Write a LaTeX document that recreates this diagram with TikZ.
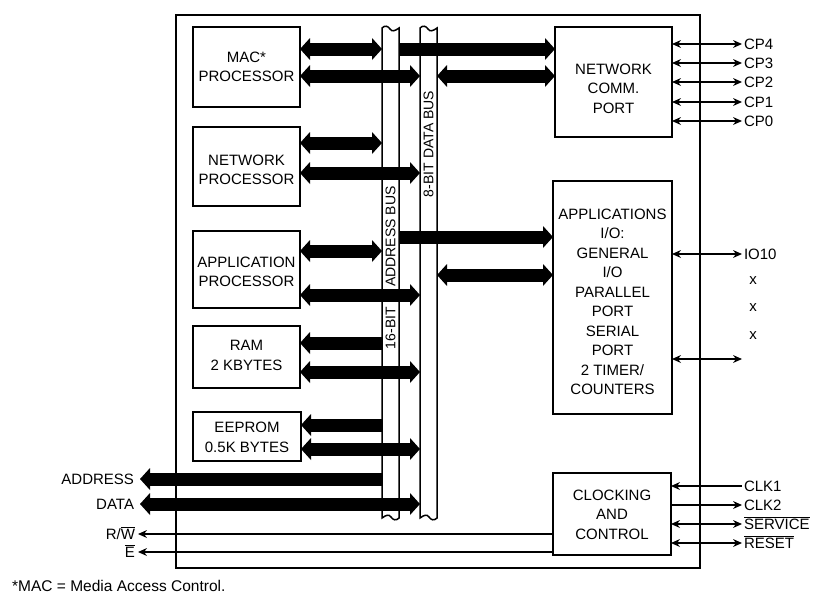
\documentclass[tikz,border=0pt]{standalone}
\usepackage{fontspec}
\setmainfont{Liberation Sans}
\usetikzlibrary{arrows.meta}
\newcommand\mfs{\fontsize{15}{19.5}\selectfont}
\newcommand\bfs{\fontsize{14}{16}\selectfont}
\begin{document}
\begin{tikzpicture}[x=1pt,y=-1pt,
  box/.style={draw,line width=1.5pt,outer sep=0pt,inner sep=0pt,anchor=north west},
  busn/.style={inner sep=0pt,outer sep=0pt,anchor=north west,minimum width=17pt,minimum height=490pt},
  txt/.style={align=center,font=\mfs,inner sep=0pt},
  lbl/.style={font=\mfs,inner xsep=2pt,inner ysep=0pt,outer sep=0pt,text height=10.7pt,text depth=0pt},
  blbl/.style={font=\bfs,rotate=90,inner sep=0pt},
  bd/.style={line width=13pt,{Triangle[length=10pt,width=22pt,line width=0pt]}-{Triangle[length=10pt,width=22pt,line width=0pt]}},
  br/.style={line width=13pt,-{Triangle[length=10pt,width=22pt,line width=0pt]}},
  td/.style={line width=1.5pt,{Stealth[length=9pt,width=8pt,line width=0pt]}-{Stealth[length=9pt,width=8pt,line width=0pt]}},
  tr/.style={line width=1.5pt,-{Stealth[length=9pt,width=8pt,line width=0pt]}},
  busline/.style={line width=1.5pt,fill=white}
]
\useasboundingbox (0,0) rectangle (813,595);

% outer frame
\node[box,minimum width=524pt,minimum height=553pt] (outer) at (176,15) {};

% buses
\node[busn] (abus) at (382,28) {};
\node[busn] (dbus) at (420,28) {};
\draw[busline] (382,518) -- (382,28) .. controls (385,25) and (388,26) .. (390,29)
  .. controls (392,32) and (395,31) .. (399,28) -- (399,518)
  .. controls (396,521) and (393,520) .. (391,517) .. controls (389,514) and (386,515) .. (382,518) -- cycle;
\draw[busline] (420,518) -- (420,28) .. controls (423,25) and (426,26) .. (428,29)
  .. controls (430,32) and (433,31) .. (437,28) -- (437,518)
  .. controls (434,521) and (431,520) .. (429,517) .. controls (427,514) and (424,515) .. (420,518) -- cycle;

% boxes
\node[box,minimum width=107pt,minimum height=80pt] (mac) at (193,27) {};
\node[txt] at (mac.center) {MAC*\\PROCESSOR};
\node[box,minimum width=107pt,minimum height=79pt] (np) at (193,127) {};
\node[txt] at ([yshift=-3.5pt]np.center) {NETWORK\\PROCESSOR};
\node[box,minimum width=107pt,minimum height=77pt] (ap) at (193,231) {};
\node[txt] at ([yshift=-2.5pt]ap.center) {APPLICATION\\PROCESSOR};
\node[box,minimum width=107pt,minimum height=62pt] (ram) at (193,326) {};
\node[txt] at ([yshift=1.5pt]ram.center) {RAM\\2 KBYTES};
\node[box,minimum width=108pt,minimum height=49pt] (eep) at (193,412) {};
\node[txt] at ([yshift=-1pt]eep.center) {EEPROM\\0.5K BYTES};
\node[box,minimum width=117pt,minimum height=110pt] (ncp) at (555,27) {};
\node[txt] at ([yshift=-6.5pt]ncp.center) {NETWORK\\COMM.\\PORT};
\node[box,minimum width=119pt,minimum height=233pt] (apio) at (553,181) {};
\node[txt] at ([yshift=-4.5pt]apio.center) {APPLICATIONS\\I/O:\\GENERAL\\I/O\\PARALLEL\\PORT\\SERIAL\\PORT\\2 TIMER/\\COUNTERS};
\node[box,minimum width=118pt,minimum height=82pt] (ctl) at (553,473) {};
\node[txt] at ([yshift=-0.5pt]ctl.center) {CLOCKING\\AND\\CONTROL};

% outside labels
\node[lbl,anchor=west] (cp4) at (742,44) {CP4};
\node[lbl,anchor=west] (cp3) at (742,63) {CP3};
\node[lbl,anchor=west] (cp2) at (742,82) {CP2};
\node[lbl,anchor=west] (cp1) at (742,102) {CP1};
\node[lbl,anchor=west] (cp0) at (742,121) {CP0};
\node[lbl,anchor=west] (io10) at (742,254) {IO10};
\coordinate (ioend) at (742,359);
\node[font=\mfs,inner sep=0pt] (x1) at (753,281) {x};
\node[font=\mfs,inner sep=0pt] (x2) at (753,308) {x};
\node[font=\mfs,inner sep=0pt] (x3) at (753,336) {x};
\node[lbl,anchor=west] (clk1) at (742,486) {CLK1};
\node[lbl,anchor=west] (clk2) at (742,505) {CLK2};
\node[lbl,anchor=west] (srv) at (742,524) {$\overline{\hbox{SERVICE}}$};
\node[lbl,anchor=west] (rst) at (742,543) {$\overline{\hbox{RESET}}$};
\node[lbl,anchor=east,inner xsep=6pt] (addr) at (140,479) {ADDRESS};
\node[lbl,anchor=east,inner xsep=6pt] (data) at (140,504) {DATA};
\node[lbl,anchor=east,inner xsep=3pt] (rw) at (138,534) {R/$\overline{\hbox{W}}$};
\node[lbl,anchor=east,inner xsep=3pt] (en) at (138,552) {$\overline{\hbox{E}}$};
\node[font=\fontsize{15.5}{18}\selectfont,anchor=west,inner sep=0pt] (fn) at (12,585.5) {*MAC = Media Access Control.};

% thick bus connectors
\draw[bd] (mac.east |- 0,49) -- (abus.west |- 0,49);
\draw[br] (abus.east |- 0,49) -- (ncp.west |- 0,49);
\draw[bd] (mac.east |- 0,76) -- (dbus.west |- 0,76);
\draw[bd] (dbus.east |- 0,76) -- (ncp.west |- 0,76);
\draw[bd] (np.east |- 0,143) -- (abus.west |- 0,143);
\draw[bd] (np.east |- 0,173) -- (dbus.west |- 0,173);
\draw[br] (abus.east |- 0,237) -- (apio.west |- 0,237);
\draw[bd] (ap.east |- 0,251) -- (abus.west |- 0,251);
\draw[bd] (dbus.east |- 0,275) -- (apio.west |- 0,275);
\draw[bd] (ap.east |- 0,295) -- (dbus.west |- 0,295);
\draw[br] (abus.west |- 0,343) -- (ram.east |- 0,343);
\draw[bd] (ram.east |- 0,372) -- (dbus.west |- 0,372);
\draw[br] (abus.west |- 0,425) -- (eep.east |- 0,425);
\draw[bd] (eep.east |- 0,449) -- (dbus.west |- 0,449);
\draw[br] (abus.west |- addr) -- (addr.east);
\draw[bd] (dbus.west |- data) -- (data.east);

% bus labels
\node[blbl] at (abus.center |- 0,236.5) {ADDRESS BUS};
\node[blbl] at (abus.center |- 0,328) {16-BIT};
\node[blbl] at (dbus.center |- 0,144) {8-BIT DATA BUS};

% thin connectors
\draw[td] (ncp.east |- cp4) -- (cp4.west);
\draw[td] (ncp.east |- cp3) -- (cp3.west);
\draw[td] (ncp.east |- cp2) -- (cp2.west);
\draw[td] (ncp.east |- cp1) -- (cp1.west);
\draw[td] (ncp.east |- cp0) -- (cp0.west);
\draw[td] (apio.east |- io10) -- (io10.west);
\draw[td] (apio.east |- ioend) -- (ioend);
\draw[tr] (clk1.west) -- (ctl.east |- clk1);
\draw[tr] (ctl.east |- clk2) -- (clk2.west);
\draw[td] (ctl.east |- srv) -- (srv.west);
\draw[td] (ctl.east |- rst) -- (rst.west);
\draw[tr] (ctl.west |- rw) -- (rw.east);
\draw[tr] (ctl.west |- en) -- (en.east);
\end{tikzpicture}
\end{document}
